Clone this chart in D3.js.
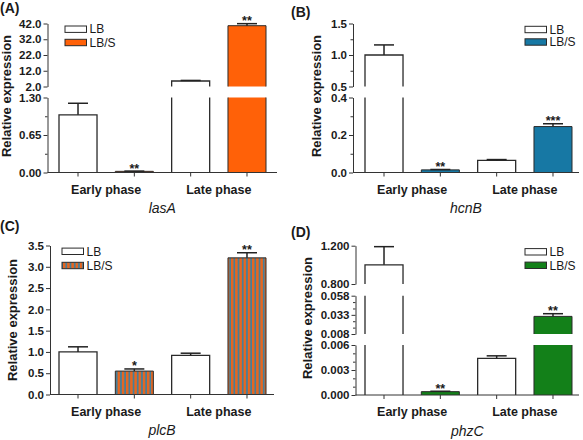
<!DOCTYPE html>
<html><head><meta charset="utf-8">
<script src="https://cdn.jsdelivr.net/npm/d3@7"></script>
<style>
body{margin:0;background:#fff}
svg{display:block}
text{font-family:"Liberation Sans",Arial,Helvetica,sans-serif;fill:#1a1a1a}
</style>
</head><body>
<svg id="chart" width="583" height="440"></svg>
<script>
// ---------- data ----------
const categories = ["Early phase", "Late phase"];
const series = ["LB", "LB/S"];

// (A) lasA
const lasA_LB = [1.0, 5.5];
const lasA_LB_err = [0.2, 0.35];
const lasA_LBS = [0.02, 40.6];
const lasA_LBS_err = [0.004, 1.3];
const lasA_sig = ["**", "**"];
const lasA_ticks = [[0, 0.65, 1.30], [2, 12, 22, 32, 42]];
const lasA_minor = [[0.325, 0.975], []];
const lasA_breaks = [[0, 1.30], [2, 42]];

// (B) hcnB
const hcnB_LB = [1.0, 0.065];
const hcnB_LB_err = [0.16, 0.004];
const hcnB_LBS = [0.014, 0.245];
const hcnB_LBS_err = [0.002, 0.015];
const hcnB_sig = ["**", "***"];
const hcnB_ticks = [[0, 0.2, 0.4], [0.5, 1.0, 1.5]];
const hcnB_minor = [[0.1, 0.3], [0.75, 1.25]];
const hcnB_breaks = [[0, 0.4], [0.5, 1.5]];

// (C) plcB
const plcB_LB = [1.0, 0.92];
const plcB_LB_err = [0.12, 0.05];
const plcB_LBS = [0.55, 3.21];
const plcB_LBS_err = [0.05, 0.12];
const plcB_sig = ["*", "**"];
const plcB_ticks = [[0, 0.5, 1.0, 1.5, 2.0, 2.5, 3.0, 3.5]];
const plcB_minor = [[]];
const plcB_breaks = [[0, 3.5]];

// (D) phzC
const phzC_LB = [1.0, 0.0044];
const phzC_LB_err = [0.19, 0.0003];
const phzC_LBS = [0.0004, 0.031];
const phzC_LBS_err = [0.00005, 0.0035];
const phzC_sig = ["**", "**"];
const phzC_ticks = [[0, 0.003, 0.006], [0.008, 0.033, 0.058], [0.8, 1.2]];
const phzC_minor = [[0.001, 0.002, 0.004, 0.005], [0.01633, 0.02467, 0.04133, 0.04967], []];
const phzC_breaks = [[0, 0.006], [0.008, 0.058], [0.8, 1.2]];

// ---------- drawing ----------
const svg = d3.select("#chart");
const defs = svg.append("defs");
const pat = defs.append("pattern").attr("id", "stripes")
  .attr("patternUnits", "userSpaceOnUse").attr("width", 4.2).attr("height", 10);
pat.append("rect").attr("width", 4.2).attr("height", 10).attr("fill", "#e8661f");
pat.append("rect").attr("x", 2.4).attr("width", 1.8).attr("height", 10).attr("fill", "#467f99");

const AX = "#333";

function drawPanel(cfg) {
  const g = svg.append("g");
  const segs = cfg.breaks.map((d, i) => ({
    lo: d[0], hi: d[1],
    y: d3.scaleLinear().domain(d).range(cfg.ranges[i]),
    ticks: cfg.ticks[i], minor: cfg.minor[i], fmt: cfg.fmts[i]
  }));
  const yOf = v => {
    for (const s of segs) if (v <= s.hi) return s.y(Math.max(v, s.lo));
    const l = segs[segs.length - 1];
    return l.y(l.hi);
  };
  const zeroY = segs[0].y(0);

  const xo = d3.scaleBand().domain(categories).range(cfg.barSpan).paddingInner(0.1625);
  const xi = d3.scaleBand().domain(series).range([0, xo.bandwidth()]).paddingInner(0.325);
  const bw = xi.bandwidth();

  const rows = [];
  categories.forEach((c, ci) => series.forEach((s, si) => rows.push({
    c, s, v: cfg.values[si][ci], e: cfg.errors[si][ci], sig: si === 1 ? cfg.sig[ci] : "",
    fill: si === 0 ? "#fff" : cfg.color, sw: si === 0 ? 1.3 : 1
  })));

  // bars (pieces per axis segment)
  rows.forEach(r => {
    const x = xo(r.c) + xi(r.s);
    segs.forEach(s => {
      if (r.v <= s.lo) return;
      const top = Math.min(r.v, s.hi);
      const y0 = s.y(s.lo), y1 = s.y(top);
      g.append("rect").attr("x", x).attr("y", y1).attr("width", bw)
        .attr("height", Math.max(0.8, y0 - y1)).attr("fill", r.fill);
      const closed = r.v <= s.hi;
      const d = closed
        ? `M${x},${y0}V${y1}H${x + bw}V${y0}`
        : `M${x},${y0}V${y1}M${x + bw},${y1}V${y0}`;
      g.append("path").attr("d", d).attr("fill", "none").attr("stroke", "#2a2a2a").attr("stroke-width", r.sw);
    });
    // error bar
    const cx = x + bw / 2;
    const yt = yOf(r.v), ye = yOf(r.v + r.e);
    g.append("line").attr("x1", cx).attr("x2", cx).attr("y1", yt).attr("y2", ye)
      .attr("stroke", "#222").attr("stroke-width", 1.5);
    g.append("line").attr("x1", cx - 10).attr("x2", cx + 10).attr("y1", ye).attr("y2", ye)
      .attr("stroke", "#222").attr("stroke-width", 1.5);
    if (r.sig) {
      g.append("text").attr("x", cx).attr("y", ye + 1.5).attr("text-anchor", "middle")
        .attr("font-size", 12.5).attr("font-weight", "bold").text(r.sig);
    }
  });

  // y axis segments
  segs.forEach(s => {
    const ax = g.append("g").attr("transform", `translate(${cfg.axisX},0)`)
      .call(d3.axisLeft(s.y).tickValues(s.ticks).tickFormat(d3.format(s.fmt))
        .tickSize(4).tickPadding(2).tickSizeOuter(0));
    ax.attr("font-family", null).attr("font-size", null);
    ax.selectAll("path,line").attr("stroke", AX).attr("stroke-width", 1);
    ax.selectAll("text").attr("font-size", 11.5).attr("font-weight", "bold").attr("fill", "#1a1a1a");
    if (s.minor.length) {
      const mx = g.append("g").attr("transform", `translate(${cfg.axisX},0)`)
        .call(d3.axisLeft(s.y).tickValues(s.minor).tickFormat("").tickSize(2.5).tickSizeOuter(0));
      mx.select(".domain").remove();
      mx.selectAll("line").attr("stroke", AX);
    }
  });

  // x axis
  g.append("line").attr("x1", cfg.axisX).attr("x2", cfg.xEnd).attr("y1", zeroY).attr("y2", zeroY)
    .attr("stroke", AX).attr("stroke-width", 1);
  rows.forEach(r => {
    const cx = xo(r.c) + xi(r.s) + bw / 2;
    g.append("line").attr("x1", cx).attr("x2", cx).attr("y1", zeroY).attr("y2", zeroY + 4)
      .attr("stroke", AX).attr("stroke-width", 1);
  });
  categories.forEach(c => {
    g.append("text").attr("x", xo(c) + xo.bandwidth() / 2).attr("y", zeroY + 21)
      .attr("text-anchor", "middle").attr("font-size", 12.5).attr("font-weight", "bold").text(c);
  });
  g.append("text").attr("x", (cfg.axisX + cfg.xEnd) / 2).attr("y", zeroY + 40.5)
    .attr("text-anchor", "middle").attr("font-size", 14).attr("font-style", "italic").text(cfg.gene);

  // y label
  g.append("text").attr("transform", `translate(${cfg.ylab[0]},${cfg.ylab[1]}) rotate(-90)`)
    .attr("text-anchor", "middle").attr("font-size", 13).attr("font-weight", "bold").text("Relative expression");

  // panel label
  g.append("text").attr("x", cfg.lab[0]).attr("y", cfg.lab[1]).attr("font-size", 14)
    .attr("font-weight", "bold").text(cfg.label);

  // legend
  series.forEach((s, i) => {
    const yc = cfg.legend.y[i];
    g.append("rect").attr("x", cfg.legend.x).attr("y", yc - 3.2).attr("width", 21.5).attr("height", 6.4)
      .attr("fill", i === 0 ? "#fff" : cfg.color).attr("stroke", "#2a2a2a").attr("stroke-width", 1);
    g.append("text").attr("x", cfg.legend.x + 24.5).attr("y", yc + 4.2).attr("font-size", 12).text(s);
  });
}

drawPanel({
  label: "(A)", lab: [0, 12.5], gene: "lasA", color: "#ff6108",
  values: [lasA_LB, lasA_LBS], errors: [lasA_LB_err, lasA_LBS_err], sig: lasA_sig,
  breaks: lasA_breaks, ticks: lasA_ticks, minor: lasA_minor, fmts: [".2f", ".1f"],
  ranges: [[172.5, 97.5], [86.5, 23.5]],
  axisX: 47.5, xEnd: 277, barSpan: [59, 266],
  ylab: [11, 96], legend: { x: 65, y: [29.2, 42.5] }
});
drawPanel({
  label: "(B)", lab: [291, 17], gene: "hcnB", color: "#1778a4",
  values: [hcnB_LB, hcnB_LBS], errors: [hcnB_LB_err, hcnB_LBS_err], sig: hcnB_sig,
  breaks: hcnB_breaks, ticks: hcnB_ticks, minor: hcnB_minor, fmts: [".1f", ".1f"],
  ranges: [[172.5, 97.5], [86.5, 23.5]],
  axisX: 353, xEnd: 579, barSpan: [365, 572],
  ylab: [321, 96], legend: { x: 525, y: [29.5, 42] }
});
drawPanel({
  label: "(C)", lab: [0, 231], gene: "plcB", color: "url(#stripes)",
  values: [plcB_LB, plcB_LBS], errors: [plcB_LB_err, plcB_LBS_err], sig: plcB_sig,
  breaks: plcB_breaks, ticks: plcB_ticks, minor: plcB_minor, fmts: [".1f"],
  ranges: [[394.5, 245.5]],
  axisX: 50, xEnd: 274, barSpan: [59, 266],
  ylab: [17, 320], legend: { x: 62, y: [251.3, 265.5] }
});
drawPanel({
  label: "(D)", lab: [291, 237], gene: "phzC", color: "#138019",
  values: [phzC_LB, phzC_LBS], errors: [phzC_LB_err, phzC_LBS_err], sig: phzC_sig,
  breaks: phzC_breaks, ticks: phzC_ticks, minor: phzC_minor, fmts: [".3f", ".3f", ".3f"],
  ranges: [[395, 345], [334, 295.7], [284, 245.7]],
  axisX: 355.5, xEnd: 579, barSpan: [365, 572],
  ylab: [311.5, 318], legend: { x: 525, y: [251.8, 265.3] }
});
</script>
</body></html>
